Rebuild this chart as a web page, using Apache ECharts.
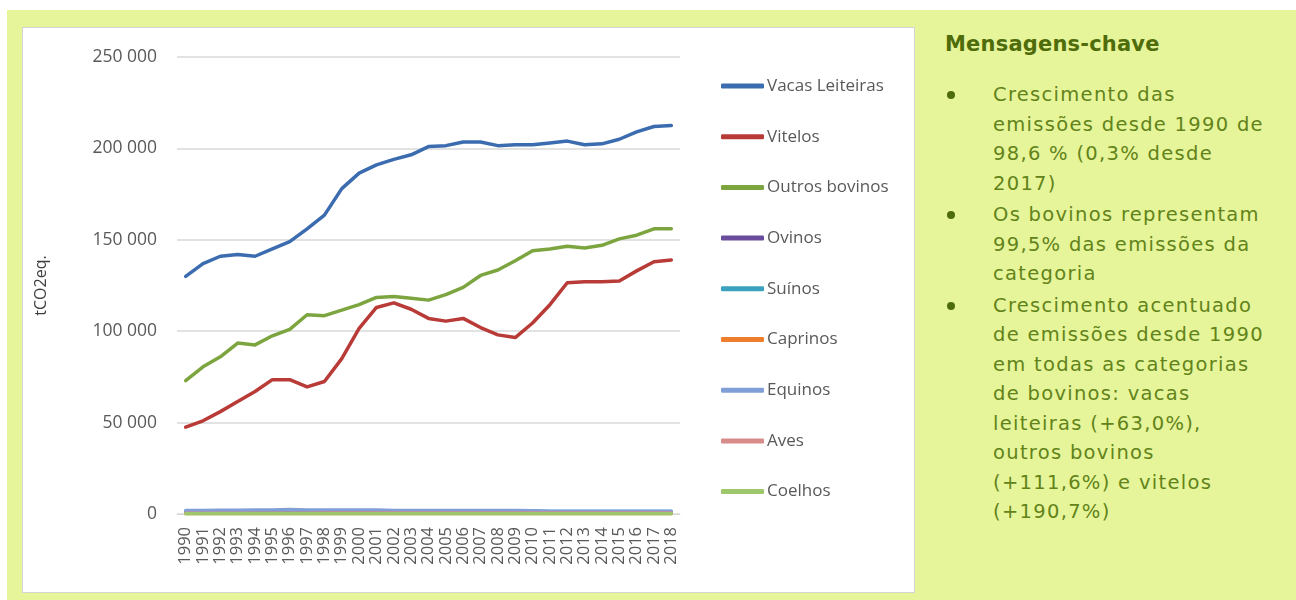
<!DOCTYPE html>
<html>
<head>
<meta charset="utf-8">
<script src="https://cdn.jsdelivr.net/npm/echarts@6/dist/echarts.min.js"></script>
<style>
  body { margin: 0; width: 1296px; height: 600px; background: #fff; position: relative; overflow: hidden; }
  #panel { position: absolute; left: 7px; top: 10px; width: 1289px; height: 590px; background: #e6f599; }
  #chart { position: absolute; left: 22px; top: 27px; width: 891px; height: 564px; background: #fff; border: 1px solid #d4d4d4; }
  #msgs { position: absolute; left: 945px; top: 32px; width: 350px; color: #62831a; font-family: "DejaVu Sans", sans-serif; }
  #msgs h3 { margin: 0 0 24px 0; font-size: 21px; font-weight: bold; color: #4f6c0b; letter-spacing: 0.2px; }
  #msgs ul { margin: 0; padding: 0; list-style: none; }
  #msgs li { position: relative; padding-left: 48px; font-size: 19.5px; line-height: 29.5px; letter-spacing: 1.3px; margin-bottom: 2px; }
  #msgs li:before { content: ""; position: absolute; left: 2px; top: 11px; width: 8px; height: 8px; border-radius: 50%; background: #4f6c0b; }
</style>
</head>
<body>
<div id="panel"></div>
<div id="chart"></div>
<div id="msgs">
  <h3>Mensagens-chave</h3>
  <ul>
    <li>Crescimento das<br>emissões desde 1990 de<br>98,6 % (0,3% desde<br>2017)</li>
    <li>Os bovinos representam<br>99,5% das emissões da<br>categoria</li>
    <li>Crescimento acentuado<br>de emissões desde 1990<br>em todas as categorias<br>de bovinos: vacas<br>leiteiras (+63,0%),<br>outros bovinos<br>(+111,6%) e vitelos<br>(+190,7%)</li>
  </ul>
</div>
<script>
  // anos
  var anos = ['1990','1991','1992','1993','1994','1995','1996','1997','1998','1999','2000','2001','2002','2003','2004',
    '2005','2006','2007','2008','2009','2010','2011','2012','2013','2014','2015','2016','2017','2018']

  // emissões (tCO2eq.)
  var vacasLeiteiras = [130000,137000,141000,142000,141000,145000,149000,156000,163500,178000,186500,191000,194000,196500,201000,
    201500,203500,203500,201500,202000,202000,203000,204000,202000,202500,205000,209000,212000,212500]
  var vitelos = [47500,51000,56000,61500,67000,73500,73500,69500,72500,85000,101500,113000,115500,112000,107000,
    105500,107000,102000,98000,96500,104500,114500,126500,127000,127000,127500,133000,138000,139000]
  var outrosBovinos = [73000,80500,86000,93500,92500,97500,101000,109000,108500,111500,114500,118500,119000,118000,117000,
    120000,124000,130500,133500,138500,144000,145000,146500,145500,147000,150500,152500,156000,156000]
  var ovinos = [700,700,750,800,800,850,850,850,850,800,800,800,750,750,700,700,650,650,600,600,600,550,550,500,500,500,500,500,500]
  var suinos = [1300,1300,1350,1400,1400,1450,1450,1450,1450,1450,1450,1450,1400,1400,1400,1450,1500,1550,1550,1600,1600,1400,1350,1350,1300,1350,1350,1400,1400]
  var caprinos = [300,300,300,300,300,300,300,300,300,280,280,280,270,270,260,260,250,250,250,240,240,230,230,230,230,230,230,230,230]
  var equinos = [1900,1950,2000,2100,2150,2250,2500,2250,2200,2200,2200,2150,1950,1900,1850,1850,1900,1900,1900,1850,1800,1550,1500,1500,1500,1500,1500,1500,1500]
  var aves = [400,400,420,430,440,450,460,470,480,490,500,500,500,500,500,500,500,500,500,500,500,480,480,480,480,480,490,500,500]
  var coelhos = [100,100,100,100,100,100,100,100,100,100,100,100,100,100,100,90,90,90,90,90,90,80,80,80,80,80,80,80,80]

  var nomes = ['Vacas Leiteiras','Vitelos','Outros bovinos','Ovinos','Suínos','Caprinos','Equinos','Aves','Coelhos']
  var dados = [vacasLeiteiras, vitelos, outrosBovinos, ovinos, suinos, caprinos, equinos, aves, coelhos]
  var cores = ['#3c6cb0','#b83b38','#7ca540','#6b4c9c','#3aa2bf','#ef7d2e','#7f9fd6','#d88b8b','#9ec66b']

  var series = nomes.map(function(n, i) {
    return {
      name: n,
      type: 'line',
      data: dados[i],
      symbol: 'none',
      lineStyle: { width: 3.5, color: cores[i], cap: 'round', join: 'round' },
      itemStyle: { color: cores[i] }
    }
  })

  var chart = echarts.init(document.getElementById('chart'))
  chart.setOption({
    animation: false,
    textStyle: { fontFamily: '"Open Sans", sans-serif' },
    grid: { left: 154, top: 29, width: 503, height: 457 },
    legend: {
      orient: 'vertical',
      left: 693,
      top: 43,
      itemWidth: 43,
      itemHeight: 5,
      itemGap: 30.7,
      icon: 'roundRect',
      data: nomes,
      textStyle: { fontSize: 17, color: '#595959', lineHeight: 20, padding: [0, 0, 0, -2] }
    },
    xAxis: {
      type: 'category',
      data: anos,
      boundaryGap: true,
      axisLine: { lineStyle: { color: '#d9d9d9' } },
      axisTick: { show: false },
      axisLabel: { rotate: 90, interval: 0, margin: 13, fontSize: 16.5, color: '#595959' }
    },
    yAxis: {
      type: 'value',
      min: 0,
      max: 250000,
      interval: 50000,
      name: 'tCO2eq.',
      nameLocation: 'middle',
      nameGap: 128,
      nameTextStyle: { fontSize: 16, color: '#404040' },
      axisLine: { show: false },
      axisTick: { show: false },
      splitLine: { lineStyle: { color: '#d9d9d9', width: 1.5 } },
      axisLabel: {
        margin: 20,
        fontSize: 17.5,
        color: '#595959',
        formatter: function(v) { return String(v).replace(/\B(?=(\d{3})+(?!\d))/g, ' ') }
      }
    },
    series: series
  })
</script>
</body>
</html>
